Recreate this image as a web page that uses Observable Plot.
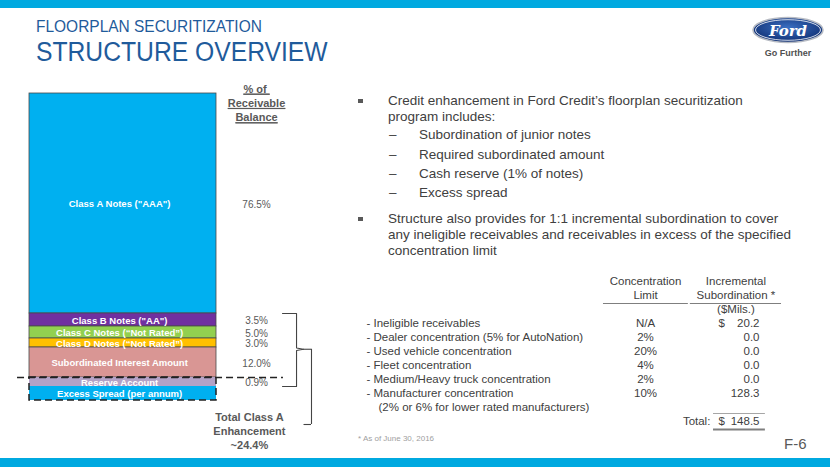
<!DOCTYPE html>
<html><head><meta charset="utf-8">
<script src="https://cdn.jsdelivr.net/npm/d3@7"></script>
<script src="https://cdn.jsdelivr.net/npm/@observablehq/plot@0.6"></script>
<style>
html,body{margin:0;padding:0;background:#fff;}
#slide{position:relative;width:830px;height:467px;overflow:hidden;background:#fff;font-family:"Liberation Sans",Arial,sans-serif;}
.abs{position:absolute;white-space:nowrap;}
</style></head><body><div id="slide"></div>
<script>
// ---------- DATA ----------
const segments = ["Class A Notes (\"AAA\")", "Class B Notes (\"AA\")", "Class C Notes (\u201cNot Rated\u201d)", "Class D Notes (\u201cNot Rated\u201d)", "Subordinated Interest Amount", "Reserve Account", "Excess Spread (per annum)"];
const percents = [76.5, 3.5, 5.0, 3.0, 12.0, 0.9, null];
const totalEnhancement = "~24.4%";

const rowLabels = ["- Ineligible receivables", "- Dealer concentration (5% for AutoNation)", "- Used vehicle concentration", "- Fleet concentration", "- Medium/Heavy truck concentration", "- Manufacturer concentration"];
const concLimits = ["N/A", "2%", "20%", "4%", "2%", "10%"];
const incrSubordination = [20.2, 0.0, 0.0, 0.0, 0.0, 128.3];
const totalSubordination = 148.5;

const bulletLines = [
  ["b", "Credit enhancement in Ford Credit\u2019s floorplan securitization"],
  ["c", "program includes:"],
  ["s", "Subordination of junior notes"],
  ["s", "Required subordinated amount"],
  ["s", "Cash reserve (1% of notes)"],
  ["s", "Excess spread"],
  ["b", "Structure also provides for 1:1 incremental subordination to cover"],
  ["c", "any ineligible receivables and receivables in excess of the specified"],
  ["c", "concentration limit"]
];

// ---------- STYLE / LAYOUT ----------
const FONT = "'Liberation Sans', Arial, sans-serif";
const BLUE = "#00A9E0";
const segColors = ["#00B0F0", "#7030A0", "#92D050", "#FFC000", "#D99694", "#B3A2C7", "#00B0F0"];
const barEdgesPx = [93, 313, 326, 338, 347, 377, 386, 400];
const bulletY = [101, 116.5, 135, 155, 174.3, 193.3, 219.3, 235, 250.7];

const slide = document.getElementById("slide");
function addDiv(text, css) {
  const d = document.createElement("div");
  d.className = "abs";
  d.textContent = text;
  Object.assign(d.style, css);
  slide.appendChild(d);
  return d;
}

// bands
addDiv("", {left: "0px", top: "0px", width: "830px", height: "8px", background: BLUE});
addDiv("", {left: "0px", top: "458px", width: "830px", height: "9px", background: BLUE});

// titles
addDiv("FLOORPLAN SECURITIZATION", {left: "36px", top: "18px", fontSize: "16.5px", lineHeight: "16.5px", color: "#1f5b9b", transform: "scaleX(0.938)", transformOrigin: "left top"});
addDiv("STRUCTURE OVERVIEW", {left: "36px", top: "39px", fontSize: "27px", lineHeight: "27px", color: "#1f5b9b", transform: "scaleX(0.914)", transformOrigin: "left top"});

// logo
const logo = document.createElementNS("http://www.w3.org/2000/svg", "svg");
logo.setAttribute("width", "90"); logo.setAttribute("height", "60");
logo.style.position = "absolute"; logo.style.left = "743px"; logo.style.top = "10px";
logo.innerHTML = `
<defs><radialGradient id="fg" cx="50%" cy="40%" r="60%"><stop offset="0%" stop-color="#3a6fc2"/><stop offset="100%" stop-color="#102f73"/></radialGradient></defs>
<ellipse cx="45" cy="20" rx="35" ry="12.5" fill="url(#fg)" stroke="#b8bcc4" stroke-width="1.6"/>
<ellipse cx="45" cy="20" rx="32.5" ry="10.3" fill="none" stroke="#ffffff" stroke-width="0.8"/>
<text x="45" y="25.5" text-anchor="middle" font-family="'DejaVu Serif', serif" font-style="italic" font-weight="bold" font-size="15" fill="#fff">Ford</text>
<text x="45" y="45.5" text-anchor="middle" font-family="${FONT}" font-weight="bold" font-size="9" fill="#505050">Go Further</text>`;
slide.appendChild(logo);

// bullets
bulletLines.forEach(([kind, text], i) => {
  const cy = bulletY[i];
  if (kind === "b") addDiv("", {left: "358px", top: (cy - 2.5) + "px", width: "4.5px", height: "4.5px", background: "#595959"});
  if (kind === "s") addDiv("\u2013", {left: "389px", top: (cy - 8) + "px", fontSize: "13.5px", lineHeight: "16px", color: "#404040"});
  addDiv(text, {left: (kind === "s" ? 419 : 388) + "px", top: (cy - 8) + "px", fontSize: "13.5px", lineHeight: "16px", color: "#404040"});
});

// footnote & page number
addDiv("* As of June 30, 2016", {left: "358px", top: "434px", fontSize: "8px", lineHeight: "10px", color: "#a0a0a0"});
addDiv("F-6", {left: "784px", top: "435px", fontSize: "15px", lineHeight: "18px", color: "#595959"});

// ---------- BAR CHART ----------
let acc = 0;
const segData = segments.map((name, i) => {
  const v = percents[i] == null ? 1 : percents[i]; // excess spread: no % of balance, shown as a band
  const d = {name, pct: percents[i], y1: acc, y2: acc + v, color: segColors[i], i};
  acc += v;
  return d;
});
const bounds = [0, ...segData.map(d => d.y2)];
const mid = d => (d.y1 + d.y2) / 2;
const topB = segData[1].y1, botB = segData[5].y2, tipY = (topB + botB) / 2, barEnd = segData[6].y2, dashY = segData[5].y1;

const chart = Plot.plot({
  width: 330, height: 467, margin: 0,
  style: {fontFamily: FONT, background: "transparent", overflow: "visible"},
  x: {type: "linear", domain: [0, 1], range: [29, 216], axis: null},
  y: {type: "linear", domain: bounds, range: barEdgesPx, axis: null},
  color: {type: "identity"},
  marks: [
    Plot.rect(segData.filter(d => d.i < 5), {x1: 0, x2: 1, y1: "y1", y2: "y2", fill: "color", stroke: "#4a4a4a", strokeWidth: 0.8}),
    Plot.rect(segData.filter(d => d.i >= 5), {x1: 0, x2: 1, y1: "y1", y2: "y2", fill: "color"}),
    Plot.text(segData, {x: 0.482, y: mid, dy: 0.6, text: "name", fill: "white", fontSize: 9.5, fontWeight: "bold"}),
    Plot.text(segData.filter(d => d.pct != null), {x: 1.214, y: mid, dy: 1, text: d => d.pct.toFixed(1) + "%", fill: "#595959", fontSize: 10}),
    Plot.text(["% of \nReceivable\nBalance"], {x: 1.214, y: 0, text: d => d, lineAnchor: "top", dy: -11, lineHeight: 1.3, fill: "#595959", fontSize: 11, fontWeight: "bold"}),
    Plot.text(["Total Class A\nEnhancement\n" + totalEnhancement], {x: 1.176, y: barEnd, text: d => d, lineAnchor: "top", dy: 11, lineHeight: 1.27, fill: "#595959", fontSize: 11, fontWeight: "bold"}),
    // dashed separators
    Plot.ruleY([dashY], {x1: -0.064, x2: 1.358, stroke: "#222", strokeWidth: 1.5, strokeDasharray: "7,4"}),
    Plot.rect([0], {x1: 0, x2: 1, y1: dashY, y2: barEnd, fill: "none", stroke: "#222", strokeWidth: 1.5, strokeDasharray: "7,4"}),
    // brackets
    Plot.line([[1.353, topB], [1.428, topB], [1.428, tipY - 0.5], [1.465, tipY], [1.428, tipY + 0.5], [1.428, botB], [1.353, botB]], {stroke: "#444", strokeWidth: 1.1, curve: "linear"}),
    Plot.ruleY([tipY], {x1: 1.465, x2: 1.508, stroke: "#444", strokeWidth: 1.1}),
    Plot.ruleX([1.508], {y1: tipY, y2: barEnd, insetBottom: -24, stroke: "#444", strokeWidth: 1.1}),
    Plot.ruleY([barEnd], {x1: 1.468, x2: 1.508, dy: 24, stroke: "#444", strokeWidth: 1.1})
  ]
});
chart.style.position = "absolute"; chart.style.left = "0px"; chart.style.top = "0px";
chart.querySelectorAll("text").forEach(t => {
  if (t.textContent.includes("Receivable")) {
    t.style.textDecoration = "underline";
    t.setAttribute("text-decoration", "underline");
    t.querySelectorAll("tspan").forEach(s => { s.style.textDecoration = "underline"; s.setAttribute("text-decoration", "underline"); });
  }
});
slide.appendChild(chart);

// ---------- TABLE ----------
const lineKeys = ["h1", "h2", "unit", ...rowLabels.map((_, i) => "r" + i), "note", "total"];
const rows = rowLabels.map((label, i) => ({key: "r" + i, label, limit: concLimits[i], value: incrSubordination[i].toFixed(1)}));
const TC = "#404040", TS = 11.5;
const table = Plot.plot({
  width: 830, height: 467, margin: 0,
  style: {fontFamily: FONT, background: "transparent", overflow: "visible"},
  x: {type: "linear", domain: [0, 1], range: [366, 759], axis: null},
  y: {type: "point", domain: lineKeys, range: [272, 430], axis: null},
  marks: [
    Plot.text([["h1", "Concentration"], ["h2", "Limit"]], {x: 0.71, y: d => d[0], text: d => d[1], fill: TC, fontSize: TS}),
    Plot.text([["h1", "Incremental"], ["h2", "Subordination *"], ["unit", "($Mils.)"]], {x: 0.94, y: d => d[0], text: d => d[1], fill: TC, fontSize: TS}),
    Plot.ruleY(["h2"], {x1: 0.603, x2: 0.819, dy: 8, stroke: "#7f7f7f", strokeWidth: 1.2}),
    Plot.ruleY(["h2"], {x1: 0.824, x2: 1.056, dy: 8, stroke: "#7f7f7f", strokeWidth: 1.2}),
    Plot.text(rows, {x: 0, y: "key", text: "label", textAnchor: "start", fill: TC, fontSize: TS}),
    Plot.text(rows, {x: 0.71, y: "key", text: "limit", fill: TC, fontSize: TS}),
    Plot.text(rows, {x: 1, y: "key", text: "value", textAnchor: "end", fill: TC, fontSize: TS}),
    Plot.text(["r0", "total"], {x: 0.8957, y: d => d, text: () => "$", textAnchor: "start", fill: TC, fontSize: TS}),
    Plot.text(["note"], {x: 0.0305, y: d => d, text: () => "(2% or 6% for lower rated manufacturers)", textAnchor: "start", fill: TC, fontSize: TS}),
    Plot.text(["total"], {x: 0.875, y: d => d, text: () => "Total:", textAnchor: "end", fill: TC, fontSize: TS}),
    Plot.text([totalSubordination], {x: 1, y: () => "total", text: d => d.toFixed(1), textAnchor: "end", fill: TC, fontSize: TS}),
    Plot.ruleY(["total"], {x1: 0.883, x2: 1.015, dy: -8, stroke: "#a6a6a6", strokeWidth: 1}),
    Plot.ruleY(["total"], {x1: 0.883, x2: 1.015, dy: 8, stroke: "#7f7f7f", strokeWidth: 2})
  ]
});
table.style.position = "absolute"; table.style.left = "0px"; table.style.top = "0px"; table.style.pointerEvents = "none";
slide.appendChild(table);
</script></body></html>
